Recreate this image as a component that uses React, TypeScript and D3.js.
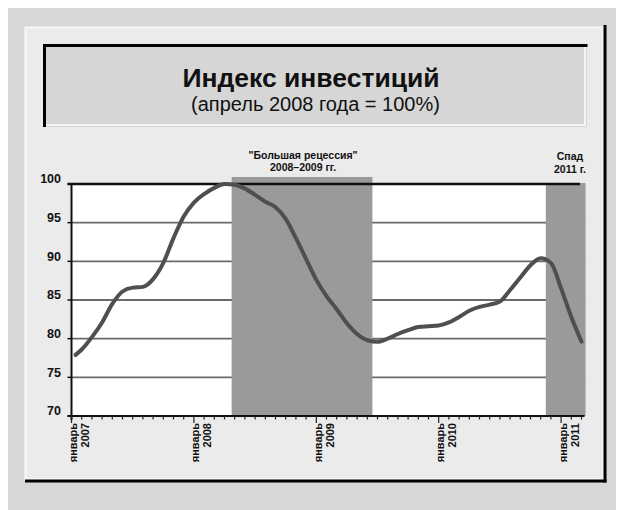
import React from "react";
import * as d3 from "d3";

const monthIdx = [0.4, 1, 2, 3, 4, 5, 6, 7, 8, 9, 10, 11, 12, 13, 14, 15, 16, 17, 18, 19, 20, 21, 22, 23, 24, 25, 26, 27, 28, 29, 30, 31, 32, 33, 34, 35, 36, 37, 38, 39, 40, 41, 42, 43, 44, 45, 46, 47, 48, 49, 50];
const values = [77.9, 78.6, 80.2, 82.1, 84.5, 86.1, 86.6, 86.7, 87.7, 89.8, 93.0, 95.8, 97.6, 98.7, 99.5, 100.0, 99.9, 99.4, 98.6, 97.7, 97.0, 95.5, 93.0, 90.3, 87.6, 85.5, 83.8, 82.0, 80.6, 79.8, 79.6, 80.0, 80.6, 81.1, 81.5, 81.6, 81.7, 82.1, 82.8, 83.6, 84.1, 84.4, 84.8, 86.3, 87.9, 89.5, 90.4, 89.8, 86.5, 82.8, 79.6];
const yTicks = [100, 95, 90, 85, 80, 75, 70];
const janMonths = [0, 12, 24, 36, 48];
const janYears = ["2007", "2008", "2009", "2010", "2011"];
const recessions = [
  { start: 15.7, end: 29.5, lines: ["\"Большая рецессия\"", "2008–2009 гг."] },
  { start: 46.5, end: 50.4, lines: ["Спад", "2011 г."] },
];
const title = "Индекс инвестиций";
const subtitle = "(апрель 2008 года = 100%)";
const monthLabel = "январь";

const FONT = "'Liberation Sans', Arial, Helvetica, sans-serif";

export default function App() {
  const x = d3.scaleLinear().domain([0, 50]).range([71.5, 581.5]);
  const y = d3.scaleLinear().domain([70, 100]).range([416, 184]);
  const plotRight = x(50.35);
  const pts = monthIdx.map((m, i) => [m, values[i]] as [number, number]);
  const line = d3
    .line<[number, number]>()
    .x((d) => x(d[0]))
    .y((d) => y(d[1]))
    .curve(d3.curveMonotoneX);
  const months = d3.range(0, 51);

  return (
    <svg width={616} height={502} style={{ display: "block" }} fontFamily={FONT}>
      <g transform="translate(-8,-8)">
        <rect x={8} y={8} width={616} height={502} fill="#d7d7d7" />
        {/* panel */}
        <rect x={24} y={26} width={581} height={455} fill="#ebebeb" />
        <rect x={26} y={28} width={577} height={451} fill="none" stroke="#f4f4f4" strokeWidth={2} />
        <line x1={605} x2={605} y1={25} y2={482.5} stroke="#000" strokeWidth={3} />
        <line x1={25} x2={606.5} y1={481} y2={481} stroke="#000" strokeWidth={3} />
        {/* title box */}
        <rect x={44} y={45} width={543} height={82} fill="#d6d6d6" />
        <polyline points="585,46 585,125 46,125" fill="none" stroke="#f5f5f5" strokeWidth={2} />
        <line x1={43} x2={587.5} y1={45.5} y2={45.5} stroke="#000" strokeWidth={3} />
        <line x1={44.5} x2={44.5} y1={44} y2={127} stroke="#000" strokeWidth={3} />
        <text x={311} y={87.3} textAnchor="middle" fontSize={26.5} fontWeight="bold" fill="#111">
          {title}
        </text>
        <text x={315.5} y={111} textAnchor="middle" fontSize={20} fill="#111">
          {subtitle}
        </text>
        {/* plot background */}
        <rect x={x(0)} y={y(100)} width={plotRight - x(0)} height={y(70) - y(100)} fill="#fff" />
        {yTicks
          .filter((t) => t !== 100 && t !== 70)
          .map((t) => (
            <line key={t} x1={x(0)} x2={plotRight} y1={y(t)} y2={y(t)} stroke="#6a6a6a" strokeWidth={1.8} />
          ))}
        {recessions.map((r, i) => (
          <g key={i}>
            <rect
              x={x(r.start)}
              y={i === 0 ? y(100) - 7 : y(100) - 1}
              width={x(r.end) - x(r.start)}
              height={y(70) - (i === 0 ? y(100) - 7 : y(100) - 1)}
              fill="#9a9a9a"
            />
            {r.lines.map((l, j) => (
              <text
                key={j}
                x={i === 0 ? (x(r.start) + x(r.end)) / 2 + 1 : 570}
                y={(i === 0 ? 158.5 : 160) + j * 12.5}
                textAnchor="middle"
                fontSize={10.5}
                fontWeight="bold"
                fill="#111"
              >
                {l}
              </text>
            ))}
          </g>
        ))}
        <line x1={x(0) - 4} x2={x(49.85)} y1={y(100)} y2={y(100)} stroke="#111" strokeWidth={2.5} />
        {/* curve */}
        <path d={line(pts) || ""} fill="none" stroke="#4f4f4f" strokeWidth={4} strokeLinejoin="round" strokeLinecap="round" />
        {/* y axis */}
        <line x1={x(0)} x2={x(0)} y1={y(100) - 1} y2={y(70) + 4} stroke="#111" strokeWidth={2} />
        {yTicks.map((t) => (
          <g key={t}>
            <line x1={x(0) - 4} x2={x(0)} y1={y(t)} y2={y(t)} stroke="#111" strokeWidth={1.5} />
            <text x={61} y={y(t) - 4} textAnchor="end" dominantBaseline="middle" fontSize={12.5} fontWeight="bold" fill="#111">
              {t}
            </text>
          </g>
        ))}
        {/* x axis */}
        <line x1={x(0) - 4} x2={x(50.3)} y1={y(70)} y2={y(70)} stroke="#111" strokeWidth={2} />
        {months.map((m) => (
          <line
            key={m}
            x1={x(m)}
            x2={x(m)}
            y1={y(70)}
            y2={y(70) + (m % 12 === 0 ? 7 : 3.5)}
            stroke="#222"
            strokeWidth={1.2}
          />
        ))}
        {janMonths.map((m, i) => (
          <g key={m} transform={`translate(${x(m)},423)`}>
            <text transform="translate(5.5,0) rotate(-90)" textAnchor="end" fontSize={11} fontWeight="bold" fill="#111">
              {monthLabel}
            </text>
            <text transform="translate(17.5,0) rotate(-90)" textAnchor="end" fontSize={11} fontWeight="bold" fill="#111">
              {janYears[i]}
            </text>
          </g>
        ))}
      </g>
    </svg>
  );
}
